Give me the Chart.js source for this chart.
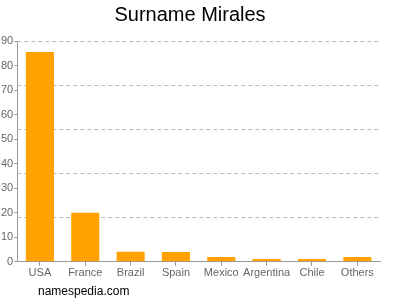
<!DOCTYPE html>
<html>
<head>
<meta charset="utf-8">
<script src="https://cdn.jsdelivr.net/npm/chart.js@4"></script>
<style>
    html, body { margin: 0; padding: 0; background: #fff; }
    #wrap { position: relative; width: 400px; height: 300px; }
    #footer {
        position: absolute; left: 38px; top: 284px;
        font: 12px "Liberation Sans", Arial, sans-serif; color: #000;
    }
</style>
</head>
<body>
<div id="wrap">
    <canvas id="chart" width="400" height="300"></canvas>
    <div id="footer">namespedia.com</div>
</div>
<script>
const countries = ['USA', 'France', 'Brazil', 'Spain', 'Mexico', 'Argentina', 'Chile', 'Others'];
const counts = [85.5, 20, 4.1, 4, 2, 1.1, 1.1, 2];
const yMax = 90;
const tickStep = 10;
const gridStep = 18;

const tickFont = { family: '"Liberation Sans", Arial, sans-serif', size: 11 };
const tickColor = '#666';
const axisColor = '#999';

new Chart(document.getElementById('chart'), {
    type: 'bar',
    data: {
        labels: countries,
        datasets: [{
            data: counts,
            backgroundColor: '#ffa200',
            barPercentage: 0.62,
            categoryPercentage: 1,
            yAxisID: 'y'
        }]
    },
    options: {
        responsive: false,
        animation: false,
        layout: { padding: { left: 0, right: 20, top: 0, bottom: 19 } },
        plugins: {
            legend: { display: false },
            tooltip: { enabled: false },
            title: {
                display: true,
                text: 'Surname Mirales',
                color: '#000',
                font: { family: '"Liberation Sans", Arial, sans-serif', size: 20, weight: 'normal' },
                padding: { top: 3, bottom: 14 }
            }
        },
        scales: {
            x: {
                grid: { offset: false, drawOnChartArea: false, drawTicks: true, tickLength: 4, color: axisColor },
                border: { color: axisColor },
                ticks: { color: tickColor, font: tickFont, padding: 1, maxRotation: 0, autoSkip: false }
            },
            y: {
                min: 0,
                max: yMax,
                grid: { drawOnChartArea: false, drawTicks: true, tickLength: 3, color: axisColor },
                border: { color: axisColor },
                ticks: { stepSize: tickStep, color: tickColor, font: tickFont, padding: 1 }
            },
            yGrid: {
                position: 'right',
                min: 0,
                max: yMax,
                grid: { color: '#bbb', drawTicks: false, tickLength: 0 },
                border: { display: false, dash: [4, 3] },
                ticks: { display: false, stepSize: gridStep }
            }
        }
    }
});
</script>
</body>
</html>
